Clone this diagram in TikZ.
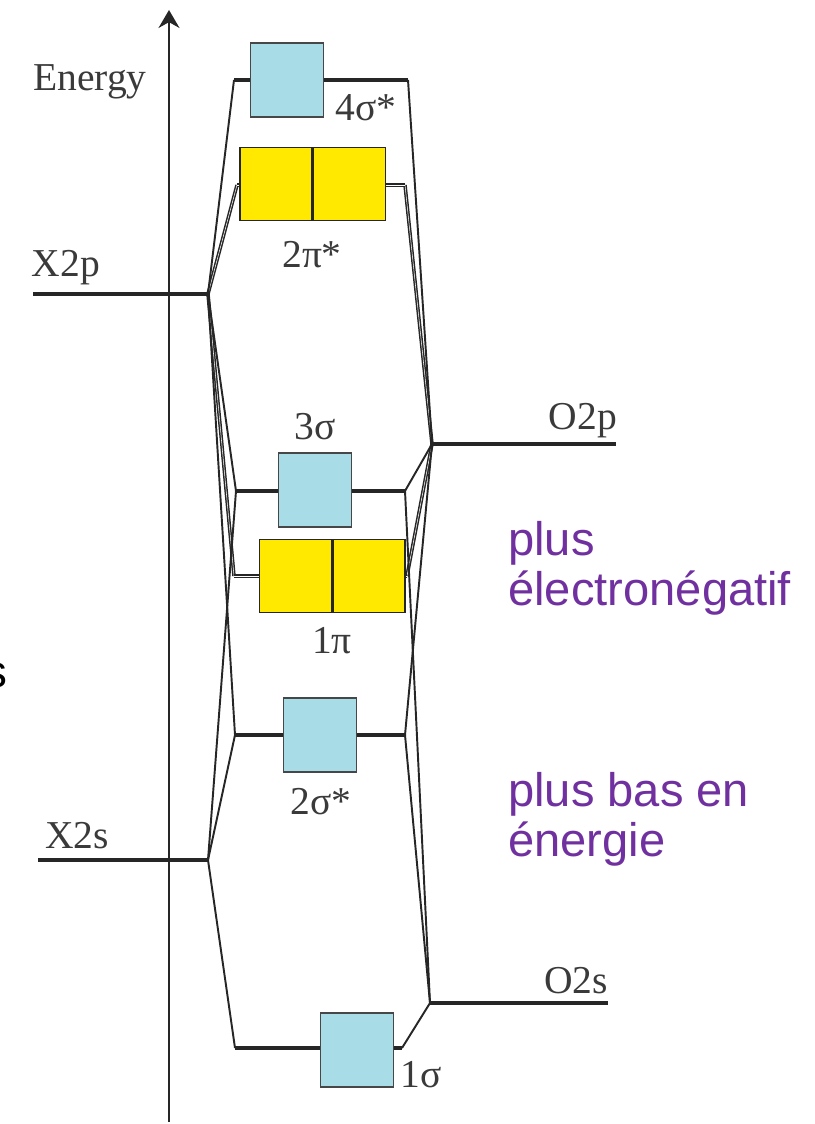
\documentclass[tikz,border=0pt]{standalone}
\usepackage{fontspec}
\setmainfont{Liberation Serif}
\setsansfont{Liberation Sans}
\usetikzlibrary{arrows.meta,positioning}
\definecolor{mocyan}{HTML}{A8DCE6}
\definecolor{moyellow}{HTML}{FFE900}
\definecolor{lnblack}{HTML}{262626}
\definecolor{txgray}{HTML}{3A3A3A}
\definecolor{ptpurple}{HTML}{7030A0}

\tikzset{
  lvl/.style={lnblack,line width=1.8pt},
  pilvl/.style={lnblack,line width=1.1pt,double=white,double distance=0.45pt},
  corr/.style={lnblack,line width=1.1pt},
  picorr/.style={lnblack,line width=0.85pt,double=white,double distance=0.3pt},
  sbox/.style={draw=lnblack!85,line width=0.9pt,fill=mocyan,inner sep=0pt,
               minimum width=1.46cm,minimum height=1.48cm},
  pbox/.style={draw=lnblack,line width=0.9pt,fill=moyellow,inner sep=0pt,
               minimum width=1.44cm,minimum height=1.46cm},
  lbl/.style={txgray,font=\fontsize{22.5}{26}\selectfont,inner sep=0pt},
  note/.style={ptpurple,font=\sffamily\fontsize{26.8}{28.5}\selectfont,
               align=left,inner sep=0pt},
}

\begin{document}
\begin{tikzpicture}[x=0.02cm,y=-0.02cm]
  \useasboundingbox (0,0) rectangle (814,1124);

  % --- energy axis ---
  \coordinate (axbot) at (169,1122);
  \coordinate (axtop) at (169,10);
  \draw[-{Stealth[length=0.36cm,width=0.42cm]},lnblack,line width=1pt]
    (axbot) -- (axtop);
  \node[lbl] (energy) at (90,82) {Energy};

  % --- atomic levels ---
  \coordinate (x2p) at (208,294);  \coordinate (x2pend) at (33,294);
  \coordinate (x2s) at (208,860);  \coordinate (x2send) at (38,860);
  \coordinate (o2p) at (432,444);  \coordinate (o2pend) at (616,444);
  \coordinate (o2s) at (430,1003); \coordinate (o2send) at (608,1003);

  % --- molecular level ends ---
  \foreach \n/\yy/\xl/\xr in {s4/80/234/408,p2/185/237/405,s3/491/236/405,
                              p1/576/234/407,s2/735/235/405,s1/1048/235/402} {
    \coordinate (\n-l) at (\xl,\yy);
    \coordinate (\n-r) at (\xr,\yy);
  }

  % --- correlation lines ---
  \foreach \a/\b in {x2p/p2-l,x2p/p1-l,o2p/p2-r,o2p/p1-r}
    \draw[picorr] (\a) -- (\b);
  \foreach \a/\b in {x2p/s4-l,x2p/s3-l,x2p/s2-l,x2s/s3-l,x2s/s2-l,x2s/s1-l,
                     o2p/s4-r,o2p/s3-r,o2p/s2-r,o2s/s3-r,o2s/s2-r,o2s/s1-r}
    \draw[corr] (\a) -- (\b);

  % --- levels ---
  \draw[lvl] (x2pend) -- (x2p);
  \draw[lvl] (x2send) -- (x2s);
  \draw[lvl] (o2p) -- (o2pend);
  \draw[lvl] (o2s) -- (o2send);
  \foreach \n in {s4,s3,s2,s1}
    \draw[lvl] (\n-l) -- (\n-r);
  \foreach \n in {p2,p1}
    \draw[pilvl] (\n-l) -- (\n-r);

  \node[lbl] (lx2p) at (66,268) {X2p};
  \node[lbl] (lx2s) at (77,836) {X2s};
  \node[lbl] (lo2p) at (583,421) {O2p};
  \node[lbl] (lo2s) at (576,981) {O2s};

  % --- orbital boxes ---
  \node[sbox] (s4) at (287,80) {};
  \node[pbox] (p2a) at (276,184) {};
  \node[pbox,right=0pt of p2a] (p2b) {};
  \node[sbox] (s3) at (315,490) {};
  \node[pbox] (p1a) at (295.5,576) {};
  \node[pbox,right=0pt of p1a] (p1b) {};
  \node[sbox] (s2) at (320,735) {};
  \node[sbox] (s1) at (357,1050) {};

  \node[lbl] (l4s) at (366,108) {4σ*};
  \node[lbl] (l2p) at (312,255) {2π*};
  \node[lbl] (l3s) at (315,427) {3σ};
  \node[lbl] (l1p) at (332,641) {1π};
  \node[lbl] (l2s) at (321,802) {2σ*};
  \node[lbl] (l1s) at (421,1075) {1σ};

  % --- notes ---
  \node[note,anchor=north west] (nelec) at (508,521) {plus\\électronégatif};
  \node[note,anchor=north west] (nlow) at (508,772) {plus bas en\\énergie};
  \node[font=\sffamily\fontsize{26}{28.5}\selectfont,inner sep=0pt,anchor=east]
    (frag) at (8,675) {s};

\end{tikzpicture}
\end{document}
